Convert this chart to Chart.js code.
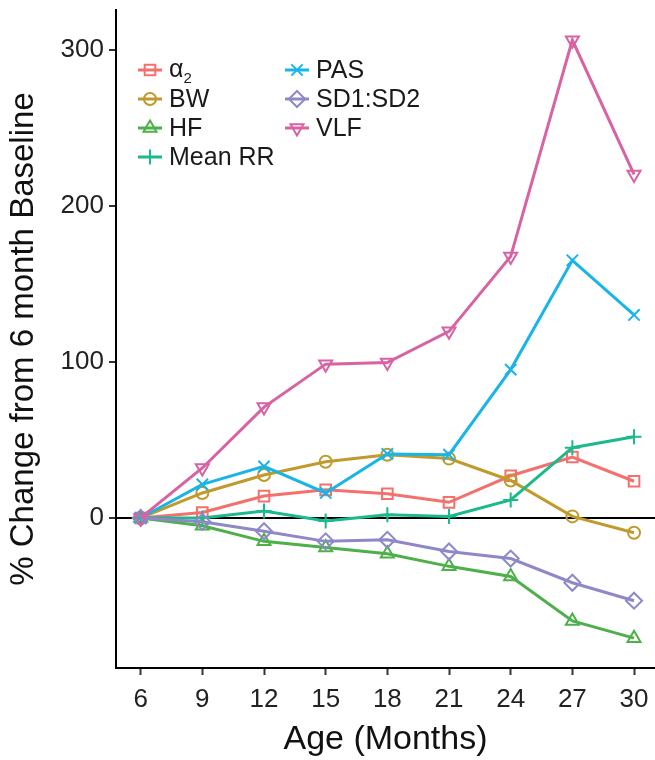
<!DOCTYPE html>
<html>
<head>
<meta charset="utf-8">
<script src="https://cdn.jsdelivr.net/npm/chart.js@4/dist/chart.umd.min.js"></script>
<style>
    html, body { margin: 0; padding: 0; background: #fff; }
    #wrap { position: relative; width: 655px; height: 760px; }
    #legend { position: absolute; left: 136px; top: 55px; font-family: "Liberation Sans", Arial, sans-serif; font-size: 25px; color: #1a1a1a; }
    .item { position: absolute; display: flex; align-items: center; white-space: nowrap; height: 29px; }
    .item canvas { margin-right: 5px; }
    .item sub { font-size: 15px; vertical-align: -6px; }
</style>
</head>
<body>
<div id="wrap">
    <canvas id="chart" width="655" height="760"></canvas>
    <div id="legend"></div>
</div>
<script>
const ages = [6, 9, 12, 15, 18, 21, 24, 27, 30];
const xTicks = [6, 9, 12, 15, 18, 21, 24, 27, 30];
const yTicks = [0, 100, 200, 300];

const alpha2 = [0, 3.5, 14, 18, 15.5, 10, 27, 39, 23.5];
const bw = [0, 16, 27.5, 36, 40.5, 38, 24, 1, -9.5];
const hf = [0, -5, -15, -19, -23, -31, -37.5, -66, -77];
const meanRR = [0, 0, 4.5, -2, 2, 1, 11.5, 45, 52];
const pas = [0, 21.5, 33, 16, 41, 40.5, 95, 165, 130];
const sd1sd2 = [0, -2.5, -8.5, -15, -14, -21.5, -26, -41.5, -53];
const vlf = [0, 32, 71, 98.5, 99.5, 119.5, 167.5, 306, 220];

const seriesNames = ['α2', 'BW', 'HF', 'Mean RR', 'PAS', 'SD1:SD2', 'VLF'];
const seriesLabels = ['α<sub>2</sub>', 'BW', 'HF', 'Mean RR', 'PAS', 'SD1:SD2', 'VLF'];
const seriesData = [alpha2, bw, hf, meanRR, pas, sd1sd2, vlf];
const colors = ['#F4706C', '#C09A2C', '#4DB04A', '#1BB98C', '#19B5E6', '#8E88C8', '#D862A2'];
const shapes = [
    { style: 'rect', radius: 7.5, rotation: 0 },
    { style: 'circle', radius: 6, rotation: 0 },
    { style: 'triangle', radius: 7.5, rotation: 0 },
    { style: 'cross', radius: 7.5, rotation: 0 },
    { style: 'crossRot', radius: 8, rotation: 0 },
    { style: 'rectRot', radius: 8, rotation: 0 },
    { style: 'triangle', radius: 7.5, rotation: 180 }
];

const FONT = '"Liberation Sans", Arial, sans-serif';

const datasets = seriesData.map((vals, i) => ({
    label: seriesNames[i],
    data: vals.map((v, j) => ({ x: ages[j], y: v })),
    borderColor: colors[i],
    borderWidth: 3,
    pointStyle: shapes[i].style,
    pointRadius: shapes[i].radius,
    pointRotation: shapes[i].rotation,
    pointBorderColor: colors[i],
    pointBackgroundColor: 'rgba(0,0,0,0)',
    pointBorderWidth: 2,
    order: seriesData.length - i,
    tension: 0
}));

new Chart(document.getElementById('chart'), {
    type: 'line',
    data: { datasets },
    options: {
        responsive: false,
        animation: false,
        layout: { autoPadding: false, padding: { top: 10, right: 0, left: 0, bottom: 0 } },
        plugins: { legend: { display: false }, tooltip: { enabled: false } },
        scales: {
            x: {
                type: 'linear',
                min: 4.8,
                max: 31.02,
                afterBuildTicks: (scale) => { scale.ticks = xTicks.map(v => ({ value: v })); },
                afterFit: (scale) => { scale.height = 92; scale.paddingRight = 0; scale.paddingLeft = 0; },
                border: { display: true, color: '#000', width: 2 },
                grid: { display: true, drawOnChartArea: false, drawTicks: true, tickLength: 7, tickWidth: 2, tickColor: '#333' },
                ticks: { color: '#222', font: { family: FONT, size: 26 }, padding: 9, maxRotation: 0, autoSkip: false },
                title: { display: true, text: 'Age (Months)', color: '#111', font: { family: FONT, size: 34 }, padding: { top: 0, bottom: 0 } }
            },
            y: {
                min: -96.1,
                max: 325.3,
                afterBuildTicks: (scale) => { scale.ticks = yTicks.map(v => ({ value: v })); },
                afterFit: (scale) => { scale.width = 116; scale.paddingTop = 0; scale.paddingBottom = 0; },
                border: { display: true, color: '#000', width: 2 },
                grid: {
                    display: true,
                    drawOnChartArea: true,
                    drawTicks: true,
                    tickLength: 7,
                    tickWidth: 2,
                    tickColor: '#333',
                    lineWidth: 2,
                    color: (ctx) => (ctx.tick && ctx.tick.value === 0) ? '#000' : 'rgba(0,0,0,0)'
                },
                ticks: { color: '#222', font: { family: FONT, size: 26 }, padding: 5 },
                title: { display: true, text: '% Change from 6 month Baseline', color: '#111', font: { family: FONT, size: 33 }, padding: { top: 4, bottom: 0 } }
            }
        }
    }
});

// legend drawn as HTML, two columns like the reference
const legendBox = document.getElementById('legend');
const columns = [[0, 1, 2, 3], [4, 5, 6]];
columns.forEach((col, c) => {
    col.forEach((idx, r) => {
        const item = document.createElement('div');
        item.className = 'item';
        item.style.left = (c * 147) + 'px';
        item.style.top = (r * 29) + 'px';
        const icon = document.createElement('canvas');
        icon.width = 28;
        icon.height = 22;
        const ictx = icon.getContext('2d');
        ictx.strokeStyle = colors[idx];
        ictx.lineWidth = 3;
        ictx.beginPath();
        ictx.moveTo(2, 11);
        ictx.lineTo(26, 11);
        ictx.stroke();
        ictx.lineWidth = 2;
        ictx.fillStyle = 'rgba(0,0,0,0)';
        Chart.helpers.drawPoint(ictx, {
            pointStyle: shapes[idx].style,
            radius: shapes[idx].radius,
            rotation: shapes[idx].rotation,
            borderWidth: 2
        }, 14, 11);
        item.appendChild(icon);
        const label = document.createElement('span');
        label.innerHTML = seriesLabels[idx];
        item.appendChild(label);
        legendBox.appendChild(item);
    });
});
</script>
</body>
</html>
